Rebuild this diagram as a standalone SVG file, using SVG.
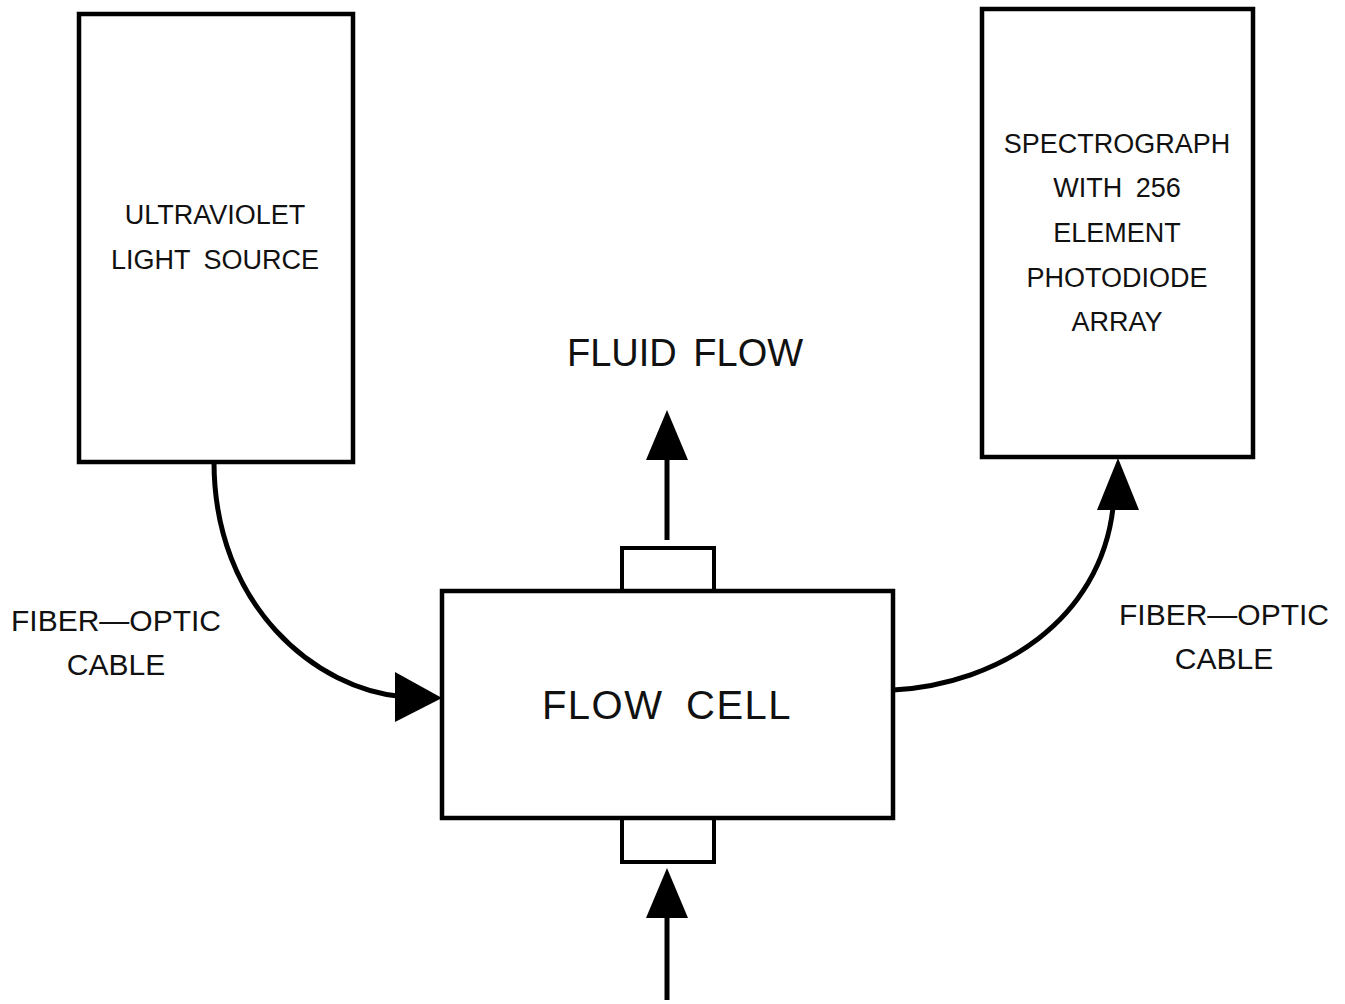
<svg xmlns="http://www.w3.org/2000/svg" width="1345" height="1004" viewBox="0 0 1345 1004">
<style>
.box{fill:#fff;stroke:#000;stroke-width:4.5}
.port{fill:#fff;stroke:#000;stroke-width:4}
.wire{fill:none;stroke:#000;stroke-width:5}
.t{font-family:"Liberation Sans",Arial,sans-serif;fill:#111;text-anchor:middle;word-spacing:6px}
.s{font-size:27px}
.m{font-size:30px}
.l{font-size:38px}
.xl{font-size:40px;letter-spacing:1.5px;word-spacing:10px}
</style>
<g id="connectors">
<path class="wire" d="M214,462 C214,605 315,690 405,697"/>
<path d="M395,672 L442,698 L395,722 Z" fill="#000"/>
<path class="wire" d="M893,690 C1000,684 1100,620 1113,508"/>
<path d="M1097,510 L1118,458 L1139,510 Z" fill="#000"/>
<line class="wire" x1="667" y1="540" x2="667" y2="455"/>
<path d="M646,460 L667,410 L688,460 Z" fill="#000"/>
<line class="wire" x1="667" y1="1000" x2="667" y2="912"/>
<path d="M646,918 L667,868 L688,918 Z" fill="#000"/>
</g>
<g id="uv-source">
<rect class="box" x="79" y="14" width="274" height="448"/>
<text class="t s" x="215" y="224">ULTRAVIOLET</text>
<text class="t s" x="215" y="269">LIGHT SOURCE</text>
</g>
<g id="spectrograph">
<rect class="box" x="982" y="9" width="271" height="448"/>
<text class="t s" x="1117" y="153">SPECTROGRAPH</text>
<text class="t s" x="1117" y="197">WITH 256</text>
<text class="t s" x="1117" y="242">ELEMENT</text>
<text class="t s" x="1117" y="287">PHOTODIODE</text>
<text class="t s" x="1117" y="331">ARRAY</text>
</g>
<g id="flow-cell">
<rect class="port" x="622" y="548" width="92" height="43"/>
<rect class="port" x="622" y="818" width="92" height="44"/>
<rect class="box" x="442" y="591" width="451" height="227"/>
<text class="t xl" x="667" y="719">FLOW CELL</text>
</g>
<g id="labels">
<text class="t l" x="685" y="366">FLUID FLOW</text>
<text class="t m" x="116" y="631">FIBER—OPTIC</text>
<text class="t m" x="116" y="675">CABLE</text>
<text class="t m" x="1224" y="625">FIBER—OPTIC</text>
<text class="t m" x="1224" y="669">CABLE</text>
</g>
</svg>
